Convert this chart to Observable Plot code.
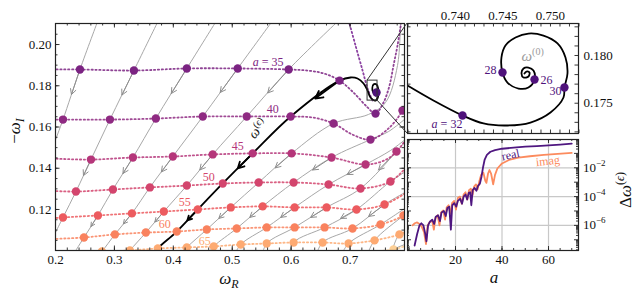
<!DOCTYPE html>
<html><head><meta charset="utf-8">
<script src="https://cdn.jsdelivr.net/npm/d3@7"></script>
<script src="https://cdn.jsdelivr.net/npm/@observablehq/plot@0.6"></script>
<style>
body{margin:0;background:#fff;}
#wrap{position:relative;width:636px;height:294px;overflow:hidden;background:#fff;font-family:'Liberation Serif',serif;}
#wrap svg text{font-family:'Liberation Serif',serif;}
</style></head><body><div id="wrap"></div>
<script>
// ---------- main panel data (omega_R, omega_I) ----------
const aValues = [35, 40, 45, 50, 55, 60, 65, 70];
const aColors = ["#7b2382", "#8f2a82", "#b5367a", "#d3456d", "#ec5b5f", "#f9825e", "#fdaa72", "#fdcf95"];
const insetPurple = "#4f127b";

const dots35 = [[0.2415,0.1879],[0.3331,0.1874],[0.4229,0.1884],[0.5093,0.1884],[0.5958,0.1879],[0.6822,0.1825],[0.7432,0.1665]];
const dots40 = [[0.2127,0.1636],[0.2924,0.1636],[0.3703,0.1641],[0.4500,0.1651],[0.5246,0.1651],[0.5992,0.1651],[0.6720,0.1617],[0.7347,0.1539],[0.7890,0.1680]];
const dots45 = [[0.2602,0.1442],[0.3314,0.1452],[0.3992,0.1457],[0.4669,0.1467],[0.5347,0.1472],[0.6008,0.1472],[0.6686,0.1452],[0.7263,0.1418],[0.7788,0.1481]];
const dots50 = [[0.2347,0.1287],[0.2975,0.1297],[0.3602,0.1307],[0.4229,0.1316],[0.4839,0.1326],[0.5449,0.1331],[0.6042,0.1331],[0.6636,0.1321],[0.7178,0.1302],[0.7686,0.1336]];
const dots55 = [[0.2127,0.1161],[0.2720,0.1171],[0.3297,0.1181],[0.3839,0.1190],[0.4415,0.1200],[0.4975,0.1210],[0.5517,0.1215],[0.6059,0.1210],[0.6602,0.1210],[0.7110,0.1200],[0.7585,0.1224]];
const dots60 = [[0.2483,0.1064],[0.3008,0.1079],[0.3534,0.1088],[0.4059,0.1093],[0.4568,0.1103],[0.5076,0.1108],[0.5585,0.1113],[0.6059,0.1113],[0.6568,0.1113],[0.7042,0.1108],[0.7517,0.1127],[0.7907,0.1171]];
const dots65 = [[0.2788,0.0996],[0.3263,0.1001],[0.3737,0.1011],[0.4229,0.1016],[0.4686,0.1021],[0.5144,0.1030],[0.5585,0.1035],[0.6042,0.1040],[0.6534,0.1040],[0.6975,0.1035],[0.7415,0.1050],[0.7839,0.1079]];
const dots70 = [[0.7737,0.1006]];
const dotRows = [dots35, dots40, dots45, dots50, dots55, dots60, dots65, dots70];

// constant-a curves (dotted)
const path30 = [[0.6975,0.2116],[0.7093,0.1995],[0.7212,0.1874],[0.7297,0.1787],[0.7381,0.1728]];
const path35 = [[0.195,0.1879],[0.2415,0.1879],[0.3331,0.1874],[0.4229,0.1884],[0.5093,0.1884],[0.5958,0.1879],[0.6331,0.1872],[0.6585,0.1857],[0.6822,0.1825],[0.7059,0.1767],[0.7297,0.1695],[0.7432,0.1665],[0.7568,0.1719],[0.7669,0.1801],[0.7737,0.1898],[0.7805,0.1995],[0.7873,0.2116]];
const path40 = [[0.195,0.1636],[0.2127,0.1636],[0.2924,0.1636],[0.3703,0.1641],[0.4500,0.1651],[0.5246,0.1651],[0.5992,0.1651],[0.6364,0.1646],[0.6720,0.1617],[0.7042,0.1563],[0.7347,0.1539],[0.7653,0.1593],[0.7890,0.1680],[0.8000,0.1760]];
const path45 = [[0.195,0.1447],[0.2602,0.1442],[0.3314,0.1452],[0.3992,0.1457],[0.4669,0.1467],[0.5347,0.1472],[0.6008,0.1472],[0.6686,0.1452],[0.7263,0.1418],[0.7600,0.1440],[0.7788,0.1481],[0.8000,0.1560]];
const path50 = [[0.195,0.1290],[0.2347,0.1287],[0.2975,0.1297],[0.3602,0.1307],[0.4229,0.1316],[0.4839,0.1326],[0.5449,0.1331],[0.6042,0.1331],[0.6636,0.1321],[0.7178,0.1302],[0.7686,0.1336],[0.8000,0.1420]];
const path55 = [[0.195,0.1157],[0.2127,0.1161],[0.2720,0.1171],[0.3297,0.1181],[0.3839,0.1190],[0.4415,0.1200],[0.4975,0.1210],[0.5517,0.1215],[0.6059,0.1210],[0.6602,0.1210],[0.7110,0.1200],[0.7585,0.1224],[0.8000,0.1290]];
const path60 = [[0.195,0.1057],[0.2483,0.1064],[0.3008,0.1079],[0.3534,0.1088],[0.4059,0.1093],[0.4568,0.1103],[0.5076,0.1108],[0.5585,0.1113],[0.6059,0.1113],[0.6568,0.1113],[0.7042,0.1108],[0.7517,0.1127],[0.7907,0.1171],[0.8000,0.1195]];
const path65 = [[0.230,0.0985],[0.2788,0.0996],[0.3263,0.1001],[0.3737,0.1011],[0.4229,0.1016],[0.4686,0.1021],[0.5144,0.1030],[0.5585,0.1035],[0.6042,0.1040],[0.6534,0.1040],[0.6975,0.1035],[0.7415,0.1050],[0.7839,0.1079],[0.8000,0.1100]];
const path70 = [[0.650,0.0985],[0.7737,0.1006],[0.8000,0.1030]];
const aPaths = [path35, path40, path45, path50, path55, path60, path65, path70];

// grey epsilon-flow lines
const stream1 = [[0.2720,0.2116],[0.2415,0.1879],[0.2127,0.1636],[0.1990,0.1530]];
const stream2 = [[0.3746,0.2116],[0.3331,0.1874],[0.2924,0.1636],[0.2602,0.1442],[0.2347,0.1287],[0.2127,0.1161],[0.1924,0.1045]];
const stream3 = [[0.4734,0.2116],[0.4229,0.1884],[0.3703,0.1641],[0.3314,0.1452],[0.2975,0.1297],[0.2720,0.1171],[0.2483,0.1064],[0.2280,0.0972]];
const stream4 = [[0.5686,0.2116],[0.5093,0.1884],[0.4500,0.1651],[0.3992,0.1457],[0.3602,0.1307],[0.3297,0.1181],[0.3008,0.1079],[0.2788,0.0996],[0.2686,0.0962]];
const stream5 = [[0.6805,0.2116],[0.5958,0.1879],[0.5246,0.1651],[0.4669,0.1467],[0.4229,0.1316],[0.3839,0.1190],[0.3534,0.1088],[0.3263,0.1001],[0.3150,0.0960]];
const stream7 = [[0.7856,0.2116],[0.7805,0.1898],[0.7602,0.1719],[0.7314,0.1661],[0.6720,0.1617],[0.6008,0.1472],[0.5449,0.1331],[0.4975,0.1210],[0.4568,0.1103],[0.4229,0.1016],[0.4093,0.0972]];
const stream8 = [[0.7941,0.1641],[0.7653,0.1578],[0.7347,0.1539],[0.6686,0.1452],[0.6042,0.1331],[0.5517,0.1215],[0.5076,0.1108],[0.4686,0.1021],[0.4551,0.0972]];
const stream9 = [[0.7958,0.1544],[0.7686,0.1486],[0.7263,0.1418],[0.6636,0.1321],[0.6059,0.1210],[0.5585,0.1113],[0.5144,0.1030],[0.5025,0.0972]];
const stream10 = [[0.7924,0.1525],[0.7788,0.1481],[0.7178,0.1302],[0.6602,0.1210],[0.6059,0.1113],[0.5585,0.1035],[0.5500,0.0972]];
const stream11 = [[0.7980,0.1390],[0.7686,0.1336],[0.7110,0.1200],[0.6568,0.1113],[0.6042,0.1040],[0.5958,0.0972]];
const stream12 = [[0.7980,0.1290],[0.7585,0.1224],[0.7042,0.1108],[0.6534,0.1040],[0.6415,0.0972]];
const stream13 = [[0.7980,0.1215],[0.7517,0.1127],[0.6975,0.1035],[0.6839,0.0972]];
const stream14 = [[0.8025,0.1200],[0.7907,0.1171],[0.7415,0.1050],[0.7280,0.0972]];
const stream15 = [[0.8025,0.1090],[0.7839,0.1079],[0.7686,0.0972]];
const stream16 = [[0.8025,0.1040],[0.7737,0.1006],[0.7600,0.0972]];
const streams = [stream1, stream2, stream3, stream4, stream5, stream7, stream8, stream9, stream10, stream11, stream12, stream13, stream14, stream15, stream16];

// omega(epsilon) trajectory (black)
const omegaEps = [[0.3703,0.0991],[0.3737,0.1011],[0.4059,0.1093],[0.4415,0.1200],[0.4839,0.1326],[0.5347,0.1472],[0.5992,0.1651],[0.6822,0.1825],[0.7008,0.1840],[0.7127,0.1835],[0.7229,0.1811],[0.7297,0.1777],[0.7347,0.1743],[0.7432,0.1728],[0.7483,0.1762],[0.7449,0.1806],[0.7398,0.1806],[0.7381,0.1777],[0.7432,0.1753]];
const omega0Main = [[0.7449,0.1767]];
const zoomBoxR = [0.7297, 0.7466];
const zoomBoxI = [0.1728, 0.1825];

// labels on constant-a curves
const aLabelText = ["40", "45", "50", "55", "60", "65"];
const aLabelPos = [[0.5686,0.1685],[0.5093,0.1505],[0.4602,0.1355],[0.4195,0.1234],[0.3856,0.1127],[0.4534,0.1045]];
const aLabelColor = [aColors[1], aColors[2], aColors[3], aColors[4], aColors[5], aColors[6]];
const a35LabelPos = [0.5619, 0.1913];
const omegaEpsLabelPos = [0.5500, 0.1575];

// ---------- zoom inset data ----------
const spiral = [[0.73495,0.17686],[0.73768,0.17529],[0.74074,0.17372],[0.74295,0.17288],[0.74547,0.17267],[0.74789,0.17298],[0.75000,0.17403],[0.75137,0.17560],[0.75147,0.17665],[0.75179,0.17812],[0.75158,0.17979],[0.75074,0.18126],[0.74926,0.18209],[0.74768,0.18230],[0.74632,0.18188],[0.74526,0.18105],[0.74484,0.17979],[0.74495,0.17822],[0.74547,0.17717],[0.74663,0.17654],[0.74768,0.17665],[0.74832,0.17749],[0.74821,0.17843],[0.74768,0.17874],[0.74716,0.17864],[0.74695,0.17812],[0.74716,0.17770],[0.74768,0.17780],[0.74779,0.17822],[0.74747,0.17832],[0.74726,0.17812]];
const insetA = [26, 28, 30, 32];
const insetDots = [[0.74832,0.17749],[0.74495,0.17822],[0.75147,0.17665],[0.74074,0.17372]];
const omega0Pos = [0.74700, 0.17940];

// ---------- convergence panel data ----------
const realA = [2.4,3.5,4.5,5.3,6.2,7.0,7.5,8.2,9.0,10.0,10.8,11.5,12.5,13.3,14.0,15.0,15.8,16.5,17.3,18.0,18.6,19.5,20.3,21.0,22.0,22.8,23.5,24.3,25.0,25.7,26.3,26.8,27.4,28.2,29.0,29.7,30.5,31.2,31.8,32.5,33.5,35,37,40,45,50,55,60,65,70];
const realD = [4e-8,2.5e-7,1e-6,1.4e-6,1e-6,2.5e-7,7.9e-8,1e-6,1.8e-6,2.5e-6,1.26e-6,4e-6,5e-6,2e-6,7.9e-6,1e-5,4.5e-6,1.6e-5,2e-5,5e-7,2.5e-5,3.5e-5,2e-5,5e-5,7e-5,3.2e-5,1e-4,1.4e-4,6.3e-5,1.8e-4,2e-4,2.5e-5,2.8e-4,4e-4,2.5e-4,5.6e-4,7.9e-4,2.5e-3,0.01,0.035,0.079,0.13,0.17,0.21,0.25,0.29,0.32,0.36,0.41,0.47];
const imagA = [1.5,2.5,3.5,4.5,5.5,6.5,7.3,8.0,9.0,10.0,10.7,11.4,12.3,13.1,13.8,14.7,15.5,16.2,17.0,17.8,18.5,19.4,20.2,21.0,21.9,22.7,23.5,24.3,25.1,25.8,26.6,27.3,28.0,28.8,29.5,30.3,31.0,32.0,32.8,33.3,34.0,34.6,35.3,36.2,37.0,38.0,40,43,47,52,58,64,70];
const imagD = [1e-6,1.4e-6,1.6e-6,1.26e-6,7.9e-7,3.2e-7,5e-8,1e-6,1.8e-6,2e-6,5e-7,3.5e-6,5e-6,1e-6,7.9e-6,1.1e-5,2.5e-6,1.8e-5,2.5e-5,6.3e-6,3.5e-5,5e-5,1.26e-5,7.9e-5,1e-4,3.2e-5,1.4e-4,2e-4,6.3e-5,2.8e-4,3.5e-4,1.26e-4,5e-4,7e-4,3.2e-4,1.26e-3,3.2e-3,4.5e-3,1.26e-3,8.9e-4,4e-3,7e-3,4e-3,7e-4,3.2e-3,8.9e-3,0.02,0.035,0.05,0.063,0.079,0.093,0.107];
const realColor = "#4f1780", imagColor = "#fc8b5e";

// tick values
const mainXTicks = [0.2, 0.3, 0.4, 0.5, 0.6, 0.7];
const mainYTicks = [0.12, 0.14, 0.16, 0.18, 0.20];
const insetXTicks = [0.740, 0.745, 0.750];
const insetYTicks = [0.175, 0.180];
const convXTicks = [20, 40, 60];
const convYTicks = [1e-2, 1e-4, 1e-6];
const convYLabels = ["−2", "−4", "−6"];

// ---------- helpers ----------
const P = d => d[0], Q = d => d[1];
const FONT = "'Liberation Serif', serif";
function boxTicks(xs, ys, fw, fh, len) {
  const s = {stroke: "#222", strokeWidth: 0.9};
  return [
    Plot.tickX(xs, {x: d => d, insetTop: fh - len, ...s}),
    Plot.tickX(xs, {x: d => d, insetBottom: fh - len, ...s}),
    Plot.tickY(ys, {y: d => d, insetRight: fw - len, ...s}),
    Plot.tickY(ys, {y: d => d, insetLeft: fw - len, ...s})
  ];
}
const aByKey = new Map();
dotRows.forEach((row, i) => row.forEach(p => aByKey.set(p.join(","), aValues[i])));
function arrowsFor(line) {
  const out = [];
  for (let i = 0; i < line.length - 1; i++) {
    const p = line[i], q = line[i + 1];
    const ap = aByKey.get(p.join(",")), aq = aByKey.get(q.join(","));
    if (ap == null || aq == null) continue;
    let lo = p, hi = q, alo = ap, ahi = aq;
    if (ap > aq) { lo = q; hi = p; alo = aq; ahi = ap; }
    if ([35, 45, 55].includes(alo) && ahi === alo + 5)
      out.push({x1: lo[0], y1: lo[1], x2: (lo[0] + hi[0]) / 2, y2: (lo[1] + hi[1]) / 2});
  }
  return out;
}
const greyArrows = streams.flatMap(arrowsFor);
const blackArrows = arrowsFor(omegaEps);
const baseStyle = {background: "none", fontFamily: FONT, fontSize: "13px", color: "#111", overflow: "visible"};
const dotted = {strokeWidth: 1.8, strokeDasharray: "1.3,2.6", curve: "catmull-rom", clip: true};

// ---------- main panel ----------
const MW = 410, MH = 294, ML = 55, MR = 6, MT = 23, MB = 44;
const mainPlot = Plot.plot({
  width: MW, height: MH, marginLeft: ML, marginRight: MR, marginTop: MT, marginBottom: MB,
  x: {domain: [0.2, 0.7924]},
  y: {domain: [0.1001, 0.2102]},
  style: baseStyle,
  marks: [
    ...streams.map(s => Plot.line(s, {x: P, y: Q, stroke: "#a8a8a8", strokeWidth: 1, curve: "catmull-rom", clip: true})),
    Plot.arrow(greyArrows, {x1: "x1", y1: "y1", x2: "x2", y2: "y2", stroke: "#8e8e8e", strokeWidth: 1, headLength: 9, headAngle: 55, clip: true}),
    Plot.line(path30, {x: P, y: Q, stroke: "#8a3fa0", ...dotted}),
    ...aPaths.map((p, i) => Plot.line(p, {x: P, y: Q, stroke: aColors[i], strokeOpacity: 0.85, ...dotted})),
    Plot.line(omegaEps, {x: P, y: Q, stroke: "#000", strokeWidth: 1.8, curve: "catmull-rom", clip: true}),
    Plot.arrow(blackArrows, {x1: "x1", y1: "y1", x2: "x2", y2: "y2", stroke: "#000", strokeWidth: 1.8, headLength: 7, headAngle: 55, clip: true}),
    ...dotRows.map((row, i) => Plot.dot(row, {x: P, y: Q, r: 4.2, fill: aColors[i], clip: true})),
    Plot.dot(omega0Main, {x: P, y: Q, r: 4.2, fill: insetPurple}),
    Plot.rect([0], {x1: () => zoomBoxR[0], x2: () => zoomBoxR[1], y1: () => zoomBoxI[0], y2: () => zoomBoxI[1], fill: "none", stroke: "#333", strokeWidth: 1}),
    Plot.text(aLabelPos, {x: P, y: Q, text: (d, i) => aLabelText[i], fill: (d, i) => aLabelColor[i], fontSize: 12, fontFamily: FONT}),
    Plot.frame({stroke: "#222", strokeWidth: 1.2}),
    ...boxTicks(d3.range(0.2, 0.7925, 0.02), d3.range(0.105, 0.21, 0.005), MW - ML - MR, MH - MT - MB, 2.5),
    ...boxTicks(mainXTicks, mainYTicks, MW - ML - MR, MH - MT - MB, 4.5),
    Plot.axisX(mainXTicks, {anchor: "bottom", tickSize: 0, tickPadding: 4, tickFormat: d => d.toFixed(1), label: null, fontSize: 13}),
    Plot.axisY(mainYTicks, {anchor: "left", tickSize: 0, tickPadding: 4, tickFormat: d => d.toFixed(2), label: null, fontSize: 13})
  ]
});

// ---------- zoom inset ----------
const IW = 236, IH = 140, IL = 7, IR = 58, IT = 23, IB = 7;
const insetPlot = Plot.plot({
  width: IW, height: IH, marginLeft: IL, marginRight: IR, marginTop: IT, marginBottom: IB,
  x: {domain: [0.73495, 0.75295]},
  y: {domain: [0.17183, 0.18335]},
  style: baseStyle,
  marks: [
    Plot.line(spiral, {x: P, y: Q, stroke: "#000", strokeWidth: 1.8, curve: "catmull-rom", clip: true}),
    Plot.dot(insetDots, {x: P, y: Q, r: 4.2, fill: insetPurple}),
    Plot.text([insetDots[0]], {x: P, y: Q, text: () => String(insetA[0]), dx: 6, dy: 1, textAnchor: "start", fill: insetPurple, fontSize: 12, fontFamily: FONT}),
    Plot.text([insetDots[1]], {x: P, y: Q, text: () => String(insetA[1]), dx: -6, dy: -2, textAnchor: "end", fill: insetPurple, fontSize: 12, fontFamily: FONT}),
    Plot.text([insetDots[2]], {x: P, y: Q, text: () => String(insetA[2]), dx: -3, dy: 4, textAnchor: "end", fill: insetPurple, fontSize: 12, fontFamily: FONT}),
    Plot.frame({stroke: "#222", strokeWidth: 1.2}),
    ...boxTicks(d3.range(0.735, 0.7530, 0.001), d3.range(0.172, 0.1834, 0.001), IW - IL - IR, IH - IT - IB, 3.5),
    Plot.axisX(insetXTicks, {anchor: "top", tickSize: 0, tickPadding: 4, tickFormat: d => d.toFixed(3), label: null, fontSize: 13}),
    Plot.axisY(insetYTicks, {anchor: "right", tickSize: 0, tickPadding: 5, tickFormat: d => d.toFixed(3), label: null, fontSize: 13})
  ]
});

// ---------- convergence panel ----------
const CW = 236, CH = 159, CL = 7, CR = 58, CT = 4, CB = 44;
const realData = realA.map((a, i) => [a, realD[i]]);
const imagData = imagA.map((a, i) => [a, imagD[i]]);
const logMinor = [];
for (let e = -8; e <= -1; e++) for (let m = 2; m <= 9; m++) { const v = m * Math.pow(10, e); if (v > 1.8e-8 && v < 0.92) logMinor.push(v); }
const logMajor = [1e-7, 1e-6, 1e-5, 1e-4, 1e-3, 1e-2, 1e-1];
const convPlot = Plot.plot({
  width: CW, height: CH, marginLeft: CL, marginRight: CR, marginTop: CT, marginBottom: CB,
  x: {domain: [-0.65, 72.9]},
  y: {type: "log", domain: [1.8e-8, 0.92], axis: null},
  style: baseStyle,
  marks: [
    Plot.ruleX(convXTicks, {stroke: "#c8c8c8", strokeWidth: 1.2}),
    Plot.ruleY(convYTicks, {stroke: "#c8c8c8", strokeWidth: 1.2}),
    Plot.line(imagData, {x: P, y: Q, stroke: imagColor, strokeWidth: 1.8, clip: true}),
    Plot.line(realData, {x: P, y: Q, stroke: realColor, strokeWidth: 1.8, clip: true}),
    Plot.text([[43.7, 0.079]], {x: P, y: Q, text: () => "real", fill: realColor, fontSize: 12, rotate: -12, fontFamily: FONT}),
    Plot.text([[59.7, 0.029]], {x: P, y: Q, text: () => "imag", fill: imagColor, fontSize: 12, rotate: -6, fontFamily: FONT}),
    Plot.frame({stroke: "#222", strokeWidth: 1.2}),
    ...boxTicks(d3.range(0, 73, 5), logMinor, CW - CL - CR, CH - CT - CB, 2),
    ...boxTicks([0, 20, 40, 60], logMajor, CW - CL - CR, CH - CT - CB, 4),
    Plot.axisX(convXTicks, {anchor: "bottom", tickSize: 0, tickPadding: 4, label: null, fontSize: 13})
  ]
});

// ---------- layout ----------
const wrap = document.getElementById("wrap");
function place(svg, left, top) {
  svg.style.position = "absolute"; svg.style.left = left + "px"; svg.style.top = top + "px";
  svg.style.fontFamily = FONT;
  wrap.appendChild(svg);
}
const INSET_LEFT = 400, INSET_TOP = 0, CONV_LEFT = 400, CONV_TOP = 135;
place(mainPlot, 0, 0);
place(insetPlot, INSET_LEFT, INSET_TOP);
place(convPlot, CONV_LEFT, CONV_TOP);

// ---------- overlay: math labels and zoom connectors ----------
const ov = d3.select(wrap).append("svg").attr("width", 636).attr("height", 294)
  .style("position", "absolute").style("left", "0px").style("top", "0px")
  .style("font-family", FONT).style("fill", "#111");
const mx = mainPlot.scale("x"), my = mainPlot.scale("y");
const ix = insetPlot.scale("x"), iy = insetPlot.scale("y");
const cy = convPlot.scale("y");

const insetX0 = INSET_LEFT + ix.apply(ix.domain[0]);
const insetYTop = INSET_TOP + iy.apply(iy.domain[1]);
const insetYBot = INSET_TOP + iy.apply(iy.domain[0]);
ov.append("line").attr("x1", mx.apply(zoomBoxR[0])).attr("y1", my.apply(zoomBoxI[1]))
  .attr("x2", insetX0).attr("y2", insetYTop).attr("stroke", "#333").attr("stroke-width", 1);
ov.append("line").attr("x1", mx.apply(zoomBoxR[1])).attr("y1", my.apply(zoomBoxI[0]))
  .attr("x2", insetX0).attr("y2", insetYBot).attr("stroke", "#333").attr("stroke-width", 1);

let t = ov.append("text").attr("transform", "translate(20,131) rotate(-90)").attr("text-anchor", "middle").attr("font-size", 17);
t.append("tspan").text("−");
t.append("tspan").attr("font-style", "italic").text("ω");
t.append("tspan").attr("font-style", "italic").attr("font-size", 12).attr("dy", 4).text("I");

t = ov.append("text").attr("x", 229).attr("y", 284).attr("text-anchor", "middle").attr("font-size", 17);
t.append("tspan").attr("font-style", "italic").text("ω");
t.append("tspan").attr("font-style", "italic").attr("font-size", 12).attr("dy", 4).text("R");

ov.append("text").attr("x", 494).attr("y", 283).attr("text-anchor", "middle").attr("font-size", 17).attr("font-style", "italic").text("a");

t = ov.append("text").attr("transform", "translate(631,190) rotate(-90)").attr("text-anchor", "middle").attr("font-size", 17);
t.append("tspan").text("Δ");
t.append("tspan").attr("font-style", "italic").text("ω");
t.append("tspan").attr("font-size", 12).attr("dy", -7).text("(");
t.append("tspan").attr("font-size", 12).attr("font-style", "italic").text("ϵ");
t.append("tspan").attr("font-size", 12).text(")");

convYTicks.forEach((v, i) => {
  const y = CONV_TOP + cy.apply(v);
  const tt = ov.append("text").attr("x", CONV_LEFT + CW - CR + 5).attr("y", y + 4.5).attr("font-size", 13);
  tt.append("tspan").text("10");
  tt.append("tspan").attr("font-size", 9).attr("dy", -6).text(convYLabels[i]);
});

t = ov.append("text").attr("x", mx.apply(a35LabelPos[0])).attr("y", my.apply(a35LabelPos[1]) + 4)
  .attr("text-anchor", "middle").attr("font-size", 12).style("fill", aColors[0]);
t.append("tspan").attr("font-style", "italic").text("a");
t.append("tspan").text(" = 35");

t = ov.append("text").attr("x", INSET_LEFT + ix.apply(insetDots[3][0]) - 15).attr("y", INSET_TOP + iy.apply(insetDots[3][1]) + 13)
  .attr("text-anchor", "middle").attr("font-size", 12).style("fill", insetPurple);
t.append("tspan").attr("font-style", "italic").text("a");
t.append("tspan").text(" = 32");

t = ov.append("text").attr("transform", `translate(${mx.apply(omegaEpsLabelPos[0])},${my.apply(omegaEpsLabelPos[1])}) rotate(-50)`)
  .attr("text-anchor", "middle").attr("font-size", 14);
t.append("tspan").attr("font-style", "italic").text("ω");
t.append("tspan").attr("font-size", 10).attr("dy", -5).text("(");
t.append("tspan").attr("font-size", 10).attr("font-style", "italic").text("ϵ");
t.append("tspan").attr("font-size", 10).text(")");

t = ov.append("text").attr("x", INSET_LEFT + ix.apply(omega0Pos[0])).attr("y", INSET_TOP + iy.apply(omega0Pos[1]))
  .attr("text-anchor", "start").attr("font-size", 15).style("fill", "#9a9a9a");
t.append("tspan").attr("font-style", "italic").text("ω");
t.append("tspan").attr("font-size", 10).attr("dy", -6).text("(0)");
</script></body></html>
